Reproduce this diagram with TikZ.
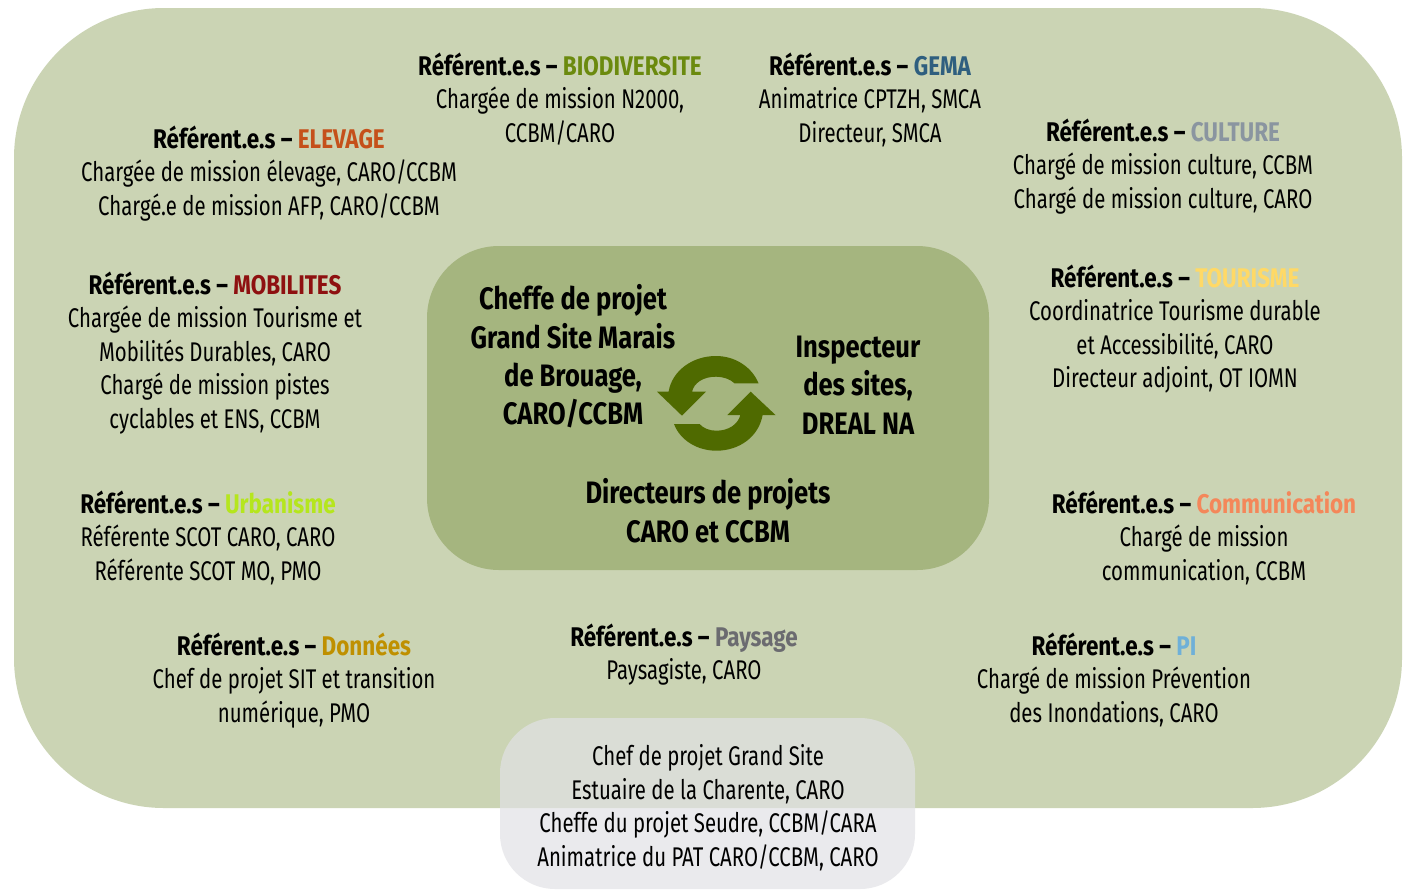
\documentclass[tikz,border=0pt]{standalone}
\usepackage{fontspec}
\setmainfont[FakeStretch=0.755,BoldFont={Fira Sans Bold},BoldFeatures={FakeStretch=0.832}]{Fira Sans}
\newfontfamily\corefont[FakeStretch=0.825]{Fira Sans Bold}
\definecolor{outer}{HTML}{CBD4B4}
\definecolor{inner}{HTML}{A5B57F}
\definecolor{lowbox}{HTML}{E2E2E6}
\definecolor{arrowg}{HTML}{4F6A00}
\tikzset{x=1pt,y=-1pt,
 ref/.style={align=center,font=\fontsize{27}{33.5}\selectfont,inner sep=0pt,text=black,anchor=north,yshift=-0.5pt},
 core/.style={align=center,font=\fontsize{31}{38.4}\corefont,inner sep=0pt,anchor=center}}
\newcommand{\rfr}[2]{{\bfseries Référent.e.s – \textcolor[HTML]{#1}{#2}}}
\begin{document}
\begin{tikzpicture}
\useasboundingbox (0,0) rectangle (1404,889);
\fill[white] (0,0) rectangle (1404,889);
\fill[outer,rounded corners=150] (14,8) rectangle (1402,808);
\fill[lowbox,opacity=.69,rounded corners=55] (500,718) rectangle (915,889);
\fill[inner,rounded corners=72] (427,246) rectangle (989,570);
\node[ref] (bio) at (560,52) {\rfr{6B8A0E}{BIODIVERSITE}\\Chargée de mission N2000,\\CCBM/CARO};
\node[ref] (gema) at (870,52) {\rfr{2F5F7F}{GEMA}\\Animatrice CPTZH, SMCA\\Directeur, SMCA};
\node[ref] (ele) at (269,125) {\rfr{C5501A}{ELEVAGE}\\Chargée de mission élevage, CARO/CCBM\\Chargé.e de mission AFP, CARO/CCBM};
\node[ref] (cul) at (1163,118) {\rfr{8A95A0}{CULTURE}\\Chargé de mission culture, CCBM\\Chargé de mission culture, CARO};
\node[ref] (mob) at (215,271) {\rfr{8E1010}{MOBILITES}\\Chargée de mission Tourisme et\\Mobilités Durables, CARO\\Chargé de mission pistes\\cyclables et ENS, CCBM};
\node[ref] (tou) at (1175,264) {\rfr{FFD966}{TOURISME}\\Coordinatrice Tourisme durable\\et Accessibilité, CARO\\Directeur adjoint, OT IOMN};
\node[ref] (urb) at (208,490) {\rfr{B5E61D}{Urbanisme}\\Référente SCOT CARO, CARO\\Référente SCOT MO, PMO};
\node[ref] (com) at (1204,490) {\rfr{F4875A}{Communication}\\Chargé de mission\\communication, CCBM};
\node[ref] (don) at (294,632) {\rfr{BF9000}{Données}\\Chef de projet SIT et transition\\numérique, PMO};
\node[ref] (pay) at (684,623) {\rfr{6B6B70}{Paysage}\\Paysagiste, CARO};
\node[ref] (pi) at (1114,632) {\rfr{6FB0D8}{PI}\\Chargé de mission Prévention\\des Inondations, CARO};
\node[ref] (low) at (708,744) {Chef de projet Grand Site\\Estuaire de la Charente, CARO\\Cheffe du projet Seudre, CCBM/CARA\\Animatrice du PAT CARO/CCBM, CARO};
\node[core] (chef) at (573,356.5) {Cheffe de projet\\Grand Site Marais\\de Brouage,\\CARO/CCBM};
\node[core] (insp) at (858,385) {Inspecteur\\des sites,\\DREAL NA};
\node[core] (dir) at (708,510.5) {Directeurs de projets\\CARO et CCBM};
\fill[arrowg] (668.6,391.7) .. controls (672,371) and (692,356) .. (716,356) .. controls (735,356) and (752,367) .. (758.5,383.3) -- (734.5,383.3) .. controls (730,379) and (723,376.7) .. (716,376.7) .. controls (703,376.7) and (694,383) .. (692,391.7) -- (706,391.7) -- (682,415.7) -- (657,391.7) -- cycle;
\fill[arrowg] (762.6,415) .. controls (759,436) and (740,450.7) .. (716.3,450.7) .. controls (697,450.7) and (680,440) .. (674,424) -- (699.6,424) .. controls (703,428) and (709,430.7) .. (716.3,430.7) .. controls (729,430.7) and (738,424) .. (740.4,415) -- (727.4,415) -- (750.7,391.7) -- (775.5,415) -- cycle;
\end{tikzpicture}
\end{document}
